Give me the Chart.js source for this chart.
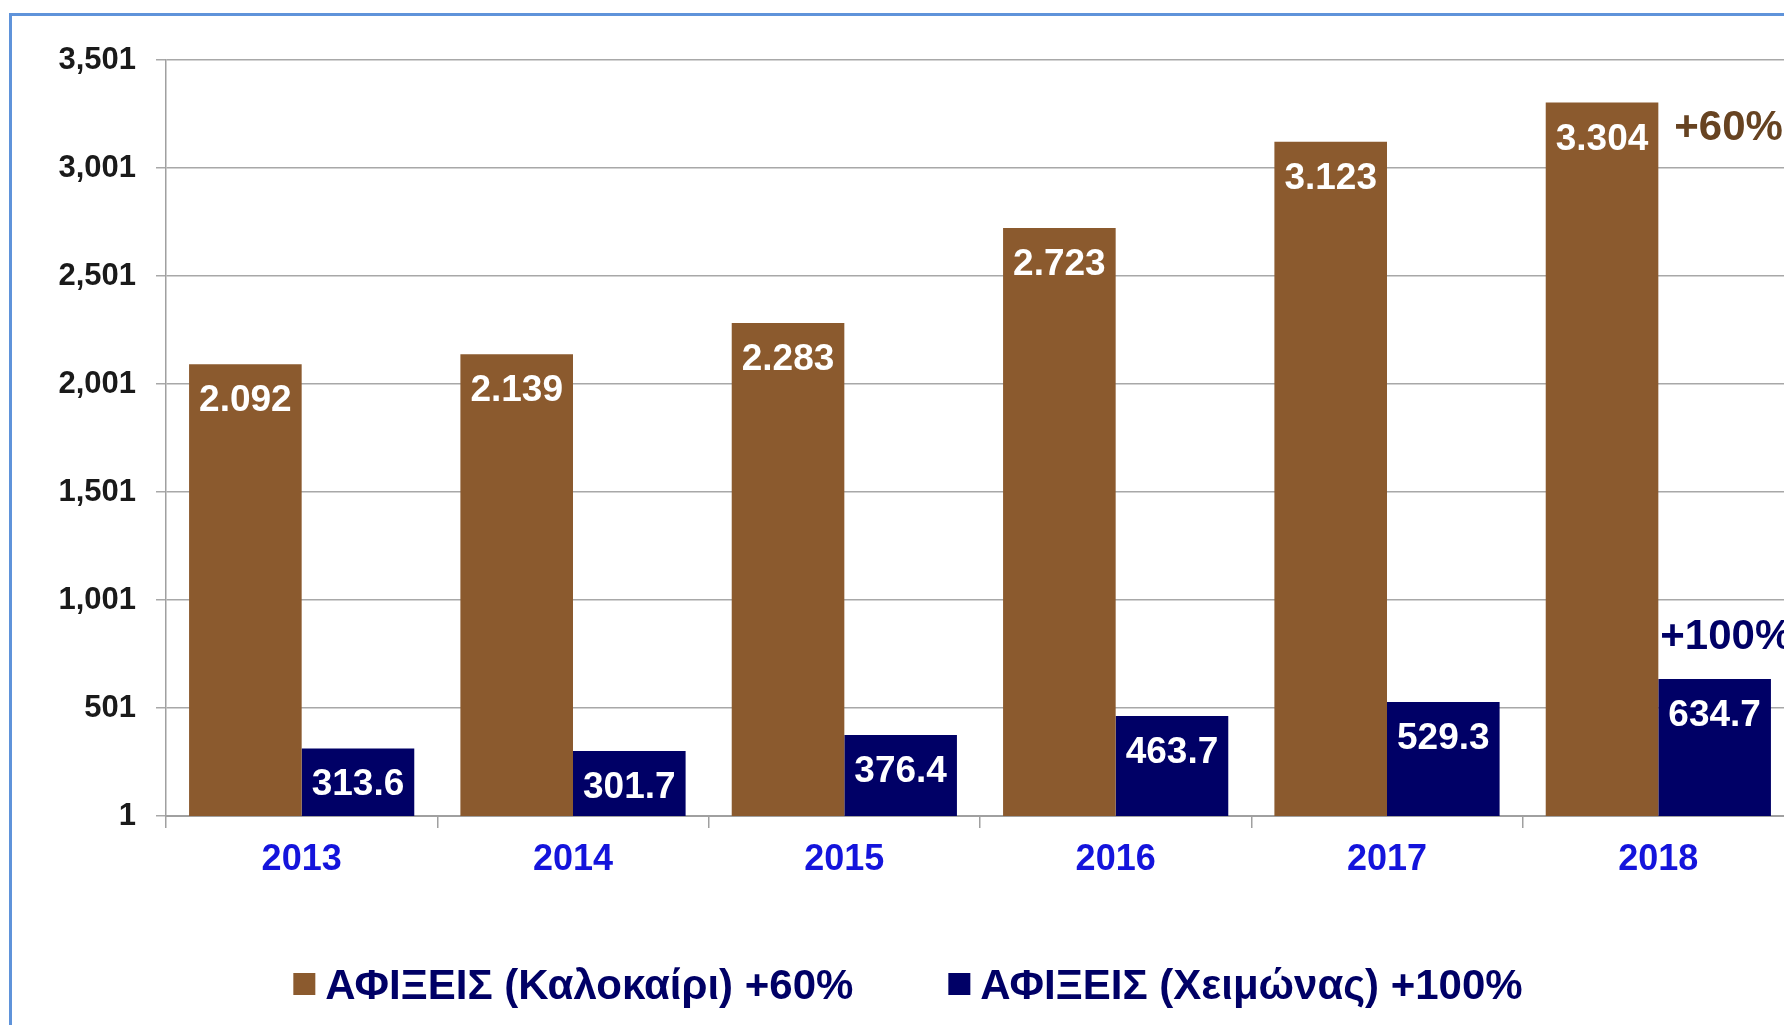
<!DOCTYPE html>
<html>
<head>
<meta charset="utf-8">
<script src="https://cdn.jsdelivr.net/npm/chart.js@4"></script>
<style>
  html, body { margin: 0; padding: 0; overflow: hidden; background: #ffffff; width: 1784px; height: 1025px; }
  #wrap { position: absolute; left: 0; top: 0; width: 1800px; height: 1025px; }
  #frame { position: absolute; left: 9px; top: 13px; width: 1900px; height: 1100px; border: 3px solid #5f93da; box-sizing: border-box; pointer-events: none; }
  canvas { position: absolute; left: 0; top: 0; }
</style>
</head>
<body>
<div id="wrap">
  <canvas id="c" width="1800" height="1025"></canvas>
  <div id="frame"></div>
</div>
<script>
const years = ['2013', '2014', '2015', '2016', '2017', '2018'];
const summerArrivals = [2092, 2139, 2283, 2723, 3123, 3304];
const winterArrivals = [313.6, 301.7, 376.4, 463.7, 529.3, 634.7];
const yTicks = [1, 501, 1001, 1501, 2001, 2501, 3001, 3501];
const seriesNames = ['ΑΦΙΞΕΙΣ (Καλοκαίρι) +60%', 'ΑΦΙΞΕΙΣ (Χειμώνας) +100%'];
const growthLabels = ['+60%', '+100%'];

const FONT = '"Liberation Sans", Arial, sans-serif';
const BROWN = '#8b5a2e';
const NAVY = '#000066';

function fmtSummer(v) { return String(v).replace(/\B(?=(\d{3})+(?!\d))/g, '.'); }
function fmtWinter(v) { return v.toFixed(1); }
function fmtAxis(v) { return String(v).replace(/\B(?=(\d{3})+(?!\d))/g, ','); }

const labelPlugin = {
  id: 'barLabels',
  afterDatasetsDraw(chart) {
    const ctx = chart.ctx;
    ctx.save();
    ctx.font = 'bold 37px ' + FONT;
    ctx.fillStyle = '#ffffff';
    ctx.textAlign = 'center';
    ctx.textBaseline = 'alphabetic';
    chart.data.datasets.forEach((ds, di) => {
      const meta = chart.getDatasetMeta(di);
      meta.data.forEach((bar, i) => {
        const txt = di === 0 ? fmtSummer(ds.data[i]) : fmtWinter(ds.data[i]);
        ctx.fillText(txt, bar.x, bar.y + 47);
      });
    });
    // growth annotations next to the last bars
    ctx.font = 'bold 42px ' + FONT;
    ctx.textAlign = 'left';
    ctx.textBaseline = 'middle';
    const last = years.length - 1;
    const b0 = chart.getDatasetMeta(0).data[last];
    const b1 = chart.getDatasetMeta(1).data[last];
    ctx.fillStyle = '#674321';
    ctx.fillText(growthLabels[0], b0.x + b0.width / 2 + 16, b0.y + 26);
    ctx.fillStyle = NAVY;
    ctx.fillText(growthLabels[1], b1.x - b1.width / 2 + 2, b1.y - 42);
    ctx.restore();
  }
};

// legend drawn below the axis (box, small gap, text)
const legendPlugin = {
  id: 'customLegend',
  afterDraw(chart) {
    const ctx = chart.ctx;
    ctx.save();
    ctx.font = 'bold 42px ' + FONT;
    ctx.textBaseline = 'middle';
    ctx.textAlign = 'left';
    const box = 22, gap = 10, itemGap = 95;
    const items = chart.data.datasets.map(ds => ({ text: ds.label, color: ds.backgroundColor, w: ctx.measureText(ds.label).width }));
    let total = 0;
    items.forEach((it, i) => { total += box + gap + it.w + (i ? itemGap : 0); });
    let x = 908 - total / 2;
    const cy = 984;
    items.forEach((it) => {
      ctx.fillStyle = it.color;
      ctx.fillRect(x, cy - box / 2, box, box);
      ctx.fillStyle = NAVY;
      ctx.fillText(it.text, x + box + gap, cy + 3);
      x += box + gap + it.w + itemGap;
    });
    ctx.restore();
  }
};

new Chart(document.getElementById('c'), {
  type: 'bar',
  data: {
    labels: years,
    datasets: [
      { label: seriesNames[0], data: summerArrivals, backgroundColor: BROWN, borderWidth: 0 },
      { label: seriesNames[1], data: winterArrivals, backgroundColor: NAVY, borderWidth: 0 }
    ]
  },
  options: {
    responsive: false,
    animation: false,
    devicePixelRatio: 1,
    layout: { padding: { left: 0, right: 6, top: 60, bottom: 151 } },
    datasets: { bar: { categoryPercentage: 0.83, barPercentage: 1.0 } },
    plugins: {
      legend: { display: false },
      tooltip: { enabled: false }
    },
    scales: {
      x: {
        grid: { display: true, drawOnChartArea: false, drawTicks: true, tickLength: 12, color: '#a0a0a0', lineWidth: 1.5, offset: true },
        border: { display: true, color: '#a0a0a0', width: 2 },
        ticks: { color: '#1414dc', font: { family: FONT, size: 36, weight: 'bold' }, padding: 10.5 },
        afterFit(scale) { scale.height = 58; }
      },
      y: {
        min: 1,
        max: 3501,
        afterBuildTicks(scale) { scale.ticks = yTicks.map(v => ({ value: v })); },
        grid: { color: '#a8a8a8', lineWidth: 1.5, drawTicks: true, tickLength: 10 },
        border: { display: true, color: '#a0a0a0', width: 1.5 },
        ticks: {
          color: '#1a1a1a',
          font: { family: FONT, size: 31, weight: 'bold' },
          padding: 20,
          callback: (v) => fmtAxis(v)
        },
        afterFit(scale) { scale.width = 166; }
      }
    }
  },
  plugins: [labelPlugin, legendPlugin]
});
</script>
</body>
</html>
